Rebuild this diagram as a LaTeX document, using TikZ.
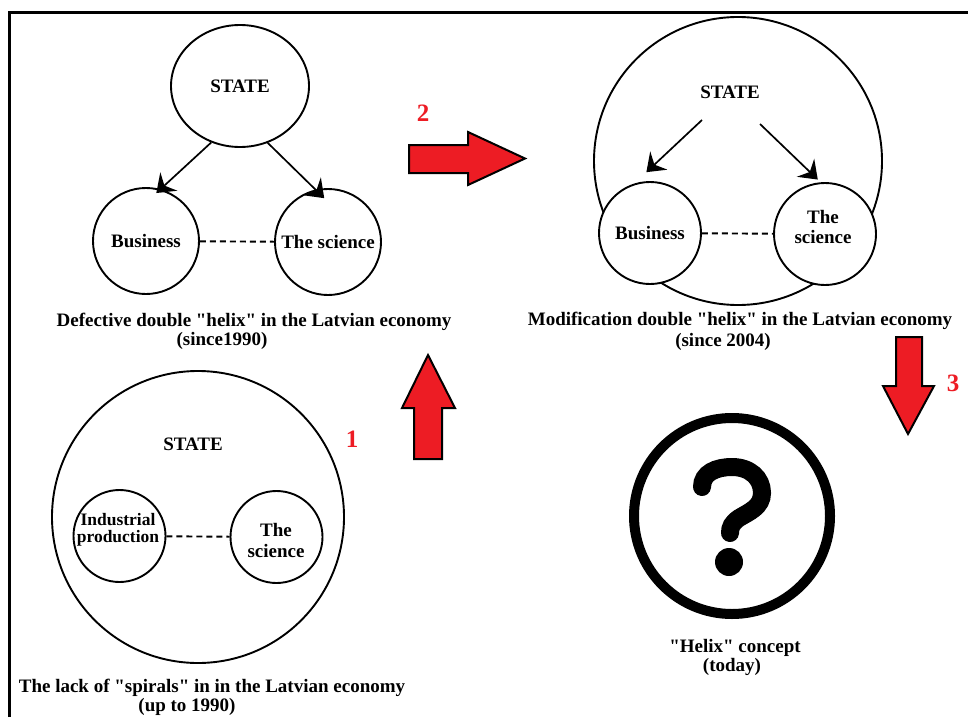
\documentclass[tikz,border=0pt]{standalone}
\usepackage{fontspec}
\setmainfont{Liberation Serif}[Ligatures=TeXOff]
\usetikzlibrary{arrows.meta,shapes.geometric}
\definecolor{arrowred}{HTML}{ED1C24}
\begin{document}
\begin{tikzpicture}[x=1pt,y=-1pt,
  lbl/.style={font=\fontsize{19}{20}\selectfont\bfseries, inner sep=0, align=center},
  small/.style={font=\fontsize{17.5}{17}\selectfont\bfseries, inner sep=0, align=center},
  ring/.style={draw, circle, line width=1.9pt, fill=white, inner sep=0},
  outer/.style={draw, circle, line width=1.9pt, inner sep=0},
  link/.style={line width=1.9pt, dash pattern=on 6pt off 4pt},
  feed/.style={line width=1.7pt, -{Stealth[length=17pt,width=25pt,inset=6pt]}},
  bigarrow/.style={fill=arrowred, draw=black, line width=2pt, line join=miter},
  num/.style={text=arrowred, font=\fontsize{25}{25}\selectfont\bfseries, inner sep=0}
]
\useasboundingbox (0,0) rectangle (968,717);
% frame
\draw[line width=3pt] (9.5,717) -- (9.5,12.5) -- (968,12.5);

% --- defective double helix (since 1990)
\node[draw, ellipse, line width=1.9pt, minimum width=138pt, minimum height=122pt, inner sep=0, lbl] (stateA) at (240,86) {STATE};
\node[ring, minimum size=106pt, lbl] (busA) at (146,241) {Business};
\node[ring, minimum size=106pt, lbl] (sciA) at (328,242) {The science};
\draw[link] (busA) -- (sciA);
\draw[feed] (stateA.-117) -- ([yshift=-5pt]busA.79);
\draw[feed] (stateA.-64) -- ([yshift=-10pt]sciA.94);
\node[lbl] (capA1) at (254,322) {Defective double "helix" in the Latvian economy};
\node[lbl] (capA2) at (222,341) {(since1990)};

% --- modified double helix (since 2004)
\node[outer, minimum size=288pt] (stateB) at (738,161) {};
\node[lbl] (stateBt) at (730,92) {STATE};
\node[ring, minimum size=102pt, lbl] (busB) at (650,233) {Business};
\node[ring, minimum size=102pt] (sciB) at (825,234) {};
\node[lbl] (sciBt) at (823,227) {The\\science};
\draw[link] (busB) -- (sciB);
\coordinate (srcBl) at (702,120);
\coordinate (srcBr) at (760,124);
\draw[feed] (srcBl) -- ([yshift=9pt]busB.94);
\draw[feed] (srcBr) -- ([yshift=3pt]sciB.98);
\node[lbl] (capB1) at (740,321) {Modification double "helix" in the Latvian economy};
\node[lbl] (capB2) at (723,342) {(since 2004)};

% --- no spirals (up to 1990)
\node[outer, minimum size=292pt] (stateC) at (198,517) {};
\node[lbl] (stateCt) at (193,444) {STATE};
\node[ring, minimum size=92pt] (indC) at (119.5,536) {};
\node[small] (indCt) at (118,530) {Industrial\\production};
\node[ring, minimum size=92pt] (sciC) at (276.5,537) {};
\node[font=\fontsize{19}{21}\selectfont\bfseries, inner sep=0, align=center] (sciCt) at (276,540) {The\\science};
\draw[link] (indC) -- (sciC);
\node[lbl] (capC1) at (212,688) {The lack of "spirals" in in the Latvian economy};
\node[lbl] (capC2) at (187,707) {(up to 1990)};

% --- helix concept today
\node[circle, draw, line width=10pt, minimum size=196pt, inner sep=0] (quest) at (732,516) {};
\draw[line width=18pt, line cap=round] (702,487) .. controls (702,473) and (716,467) .. (732,467)
  .. controls (750,467) and (762,478) .. (762,493)
  .. controls (762,507) and (749,512) .. (739,518)
  .. controls (732,523) and (730,527) .. (730,533);
\fill (729,562) circle (14pt);
\node[lbl] (capD1) at (735,648) {"Helix" concept};
\node[lbl] (capD2) at (732,667) {(today)};

% --- transition arrows
\draw[bigarrow] (414,459) -- (414,408) -- (402,408) -- (428,355) -- (455,408) -- (442,408) -- (442,459) -- cycle;
\node[num] (n1) at (352,439) {1};
\draw[bigarrow] (409,145) -- (468,145) -- (468,132) -- (525,158.5) -- (468,185) -- (468,173) -- (409,173) -- cycle;
\node[num] (n2) at (423,113) {2};
\draw[bigarrow] (896,337) -- (922,337) -- (922,386) -- (934,386) -- (908,434) -- (883,386) -- (896,386) -- cycle;
\node[num] (n3) at (953,383) {3};
\end{tikzpicture}
\end{document}
